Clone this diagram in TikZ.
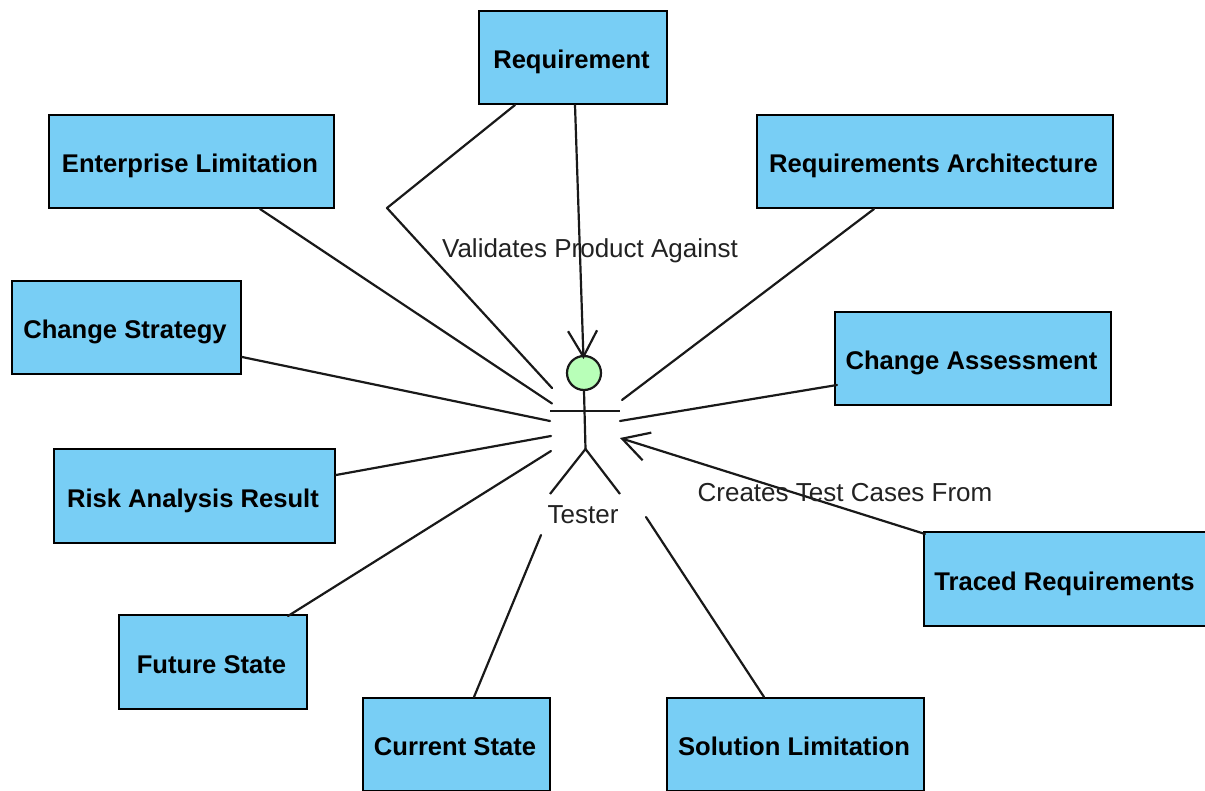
\documentclass[tikz,border=0pt]{standalone}
\usepackage{fontspec}
\setmainfont{Liberation Sans}
\usetikzlibrary{arrows.meta}
\definecolor{boxblue}{HTML}{78CEF5}
\definecolor{headgreen}{HTML}{B8FFB8}
\definecolor{labelgrey}{HTML}{222222}
\tikzset{
  boxnode/.style={draw=black,fill=boxblue,line width=2pt,inner sep=0pt,font=\fontsize{25.6}{30}\selectfont\bfseries,text=black,text height=22pt,text depth=0pt,execute at begin node={\hspace*{-3pt}}},
  conn/.style={draw=black!90,line width=2.2pt,line cap=round,line join=round},
  openarrow/.style={-{Straight Barb[length=26pt,width=29pt,line width=2.2pt]}},
  stick/.style={draw=black!90,line width=2.2pt,line cap=butt},
  lbl/.style={font=\fontsize{26}{30}\selectfont,text=labelgrey,inner sep=0pt}
}
\begin{document}
\begin{tikzpicture}[x=1pt,y=-1pt]
\useasboundingbox (0,0) rectangle (1205,791);
\clip (0,0) rectangle (1205,791);
\fill[white] (0,0) rectangle (1205,791);
% boxes
\node[boxnode,minimum width=188pt,minimum height=93pt] (req) at (573,57.5) {Requirement};
\node[boxnode,minimum width=285pt,minimum height=93pt] (ent) at (191.5,161.5) {Enterprise Limitation};
\node[boxnode,minimum width=356pt,minimum height=93pt] (arch) at (935,161.5) {Requirements Architecture};
\node[boxnode,minimum width=229pt,minimum height=93pt] (strat) at (126.5,327.5) {Change Strategy};
\node[boxnode,minimum width=276pt,minimum height=93pt] (assess) at (973,358.5) {Change Assessment};
\node[boxnode,minimum width=281pt,minimum height=94pt] (risk) at (194.5,496) {Risk Analysis Result};
\node[boxnode,minimum width=284pt,minimum height=94pt] (traced) at (1066,579) {Traced Requirements};
\node[boxnode,minimum width=188pt,minimum height=94pt] (future) at (213,662) {Future State};
\node[boxnode,minimum width=187pt,minimum height=93pt] (current) at (456.5,744.5) {Current State};
\node[boxnode,minimum width=257pt,minimum height=93pt] (sol) at (795.5,744.5) {Solution Limitation};
% actor
\node[circle,draw=black!90,fill=headgreen,line width=2.2pt,minimum size=34pt,inner sep=0pt] (head) at (584,373) {};
\coordinate (hip) at (585.5,449);
\coordinate (armL) at (550,411);
\coordinate (armR) at (620,411);
\coordinate (footL) at (550,494);
\coordinate (footR) at (620,494);
\draw[stick] (head.south) -- (hip);
\draw[stick] (armL) -- (armR);
\draw[stick] (footL) -- (hip) -- (footR);
\node[lbl] (tester) at (583,515) {Tester};
% free ends
\coordinate (bend) at (387,208);
\coordinate (e1) at (552,388);
\coordinate (e2) at (552,403.5);
\coordinate (e3) at (550,421);
\coordinate (e4) at (551,436);
\coordinate (e5) at (551,451);
\coordinate (e6) at (541,535);
\coordinate (e7) at (646,517);
\coordinate (e8) at (622,400);
\coordinate (e9) at (620,421);
\coordinate (tipA) at (583.5,359);
\coordinate (tipB) at (620,438);
% connectors
\draw[conn] ([xshift=37pt]req.south west) -- (bend) -- (e1);
\draw[conn,openarrow] ([xshift=97pt]req.south west) -- (tipA);
\draw[conn] ([xshift=212pt]ent.south west) -- (e2);
\draw[conn] ([yshift=18pt]strat.south east) -- (e3);
\draw[conn] ([yshift=69pt]risk.south east) -- (e4);
\draw[conn] ([xshift=170pt,yshift=-2pt]future.north west) -- (e5);
\draw[conn] ([xshift=112pt]current.north west) -- (e6);
\draw[conn] ([xshift=98pt]sol.north west) -- (e7);
\draw[conn] ([xshift=118pt]arch.south west) -- (e8);
\draw[conn] ([xshift=3pt,yshift=21pt]assess.south west) -- (e9);
\draw[conn,openarrow] ([xshift=2pt,yshift=-3pt]traced.north west) -- (tipB);
% labels
\node[lbl] (validates) at (590,251) {Validates Product Against};
\node[lbl] (creates) at (845,493) {Creates Test Cases From};
\end{tikzpicture}
\end{document}
